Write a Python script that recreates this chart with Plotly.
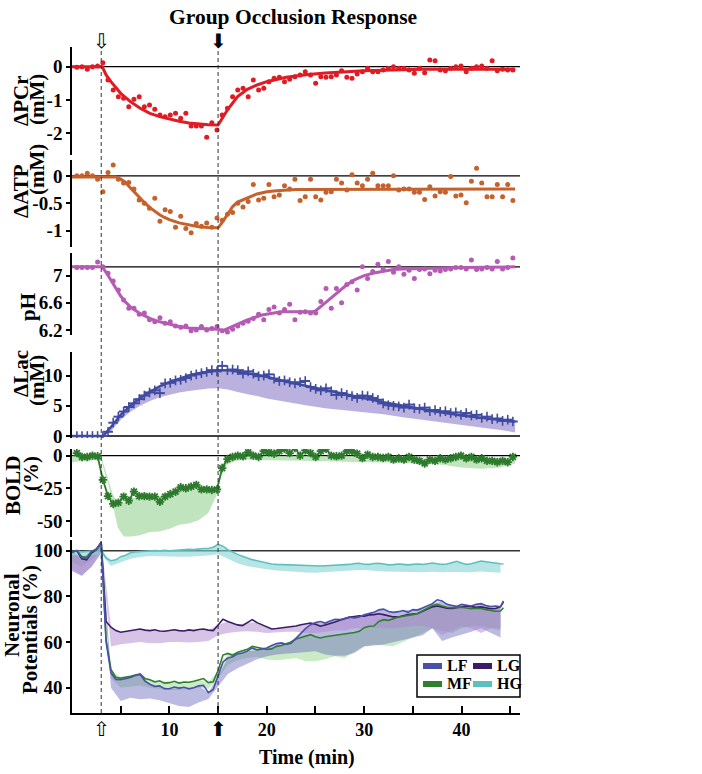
import plotly.graph_objects as go
from plotly.subplots import make_subplots

# ---------------- data ----------------
# MRS sampling times (min)
t_mrs = [0.50, 1.03, 1.57, 2.10, 2.63, 3.17, 3.70, 4.23, 4.76, 5.30,
         5.83, 6.36, 6.90, 7.43, 7.96, 8.50, 9.03, 9.56, 10.09, 10.63,
         11.16, 11.69, 12.23, 12.76, 13.29, 13.83, 14.36, 14.89, 15.42, 15.96,
         16.49, 17.02, 17.56, 18.09, 18.62, 19.16, 19.69, 20.22, 20.75, 21.29,
         21.82, 22.35, 22.89, 23.42, 23.95, 24.49, 25.02, 25.55, 26.08, 26.62,
         27.15, 27.68, 28.22, 28.75, 29.28, 29.82, 30.35, 30.88, 31.41, 31.95,
         32.48, 33.01, 33.55, 34.08, 34.61, 35.15, 35.68, 36.21, 36.74, 37.28,
         37.81, 38.34, 38.88, 39.41, 39.94, 40.48, 41.01, 41.54, 42.07, 42.61,
         43.14, 43.67, 44.21, 44.74, 45.27]

pcr = [-0.02, 0.0, -0.08, 0.0, 0.02, 0.12, -0.4, -0.7, -0.9, -0.95,
       -1.2, -0.98, -0.9, -1.2, -1.15, -1.28, -1.45, -1.5, -1.45, -1.4,
       -1.55, -1.4, -1.78, -1.78, -1.78, -2.12, -1.68, -1.9, -1.45, -1.25,
       -0.9, -0.7, -0.65, -0.9, -0.4, -0.7, -0.65, -0.45, -0.35, -0.32,
       -0.45, -0.38, -0.3, -0.25, -0.15, -0.25, -0.5, -0.3, -0.32, -0.3,
       -0.25, -0.12, -0.32, -0.35, -0.22, -0.15, -0.05, -0.15, -0.15, -0.1,
       -0.05, 0.0, -0.05, -0.05, -0.1, -0.2, -0.05, -0.18, 0.2, 0.18,
       -0.1, -0.12, -0.05, 0.0, 0.02, -0.15, -0.05, 0.0, 0.02, -0.05,
       0.18, -0.12, -0.08, -0.1, -0.1]
pcr_fit_t = [0, 3.1, 3.5, 4, 5, 6, 7, 8, 9, 10, 11, 12, 13, 14, 15, 15.5, 16, 17, 18, 19,
             20, 22, 24, 26, 28, 30, 33, 36, 40, 45.5]
pcr_fit = [0, 0, -0.25, -0.45, -0.8, -1.05, -1.25, -1.4, -1.5, -1.58, -1.64, -1.69, -1.72,
           -1.74, -1.75, -1.5, -1.28, -0.9, -0.68, -0.55, -0.45, -0.32, -0.24, -0.19, -0.15,
           -0.12, -0.1, -0.08, -0.08, -0.08]

atp = [0.0, 0.0, 0.05, 0.0, -0.06, -0.29, 0.06, 0.2, -0.06, -0.13,
       -0.12, -0.24, -0.44, -0.5, -0.59, -0.41, -0.83, -0.62, -0.65, -0.94,
       -0.74, -0.96, -1.04, -0.87, -0.92, -0.86, -0.94, -0.77, -0.81, -0.7,
       -0.67, -0.5, -0.57, -0.47, -0.16, -0.44, -0.41, -0.16, -0.38, -0.35,
       -0.18, -0.24, -0.06, -0.45, -0.38, -0.06, -0.38, -0.44, -0.3, -0.29,
       -0.06, -0.13, -0.26, 0.02, -0.13, -0.18, -0.06, 0.05, -0.18, -0.18,
       -0.18, 0.0, -0.26, -0.24, -0.24, -0.3, -0.3, -0.43, -0.2, -0.37,
       -0.29, -0.3, -0.01, -0.37, -0.35, -0.49, -0.1, 0.14, -0.13, -0.38,
       -0.38, -0.16, -0.38, -0.16, -0.45]
atp_fit_t = [0, 4.5, 5, 5.5, 6, 6.5, 7, 7.5, 8, 8.5, 9, 9.5, 10, 11, 12, 13, 14, 15,
             15.5, 16, 16.5, 17, 18, 19, 20, 21, 23, 45.5]
atp_fit = [-0.02, -0.02, -0.06, -0.12, -0.22, -0.32, -0.42, -0.5, -0.58, -0.65,
           -0.71, -0.76, -0.8, -0.86, -0.9, -0.93, -0.945, -0.95, -0.83, -0.7,
           -0.56, -0.48, -0.4, -0.33, -0.29, -0.27, -0.25, -0.24]

ph = [7.12, 7.12, 7.12, 7.12, 7.2, 7.13, 7.035, 6.92, 6.79, 6.64,
      6.52, 6.52, 6.43, 6.45, 6.35, 6.32, 6.38, 6.30, 6.32, 6.26,
      6.24, 6.26, 6.19, 6.2, 6.25, 6.2, 6.22, 6.25, 6.19, 6.17,
      6.21, 6.26, 6.3, 6.33, 6.37, 6.43, 6.35, 6.5, 6.54, 6.45,
      6.5, 6.58, 6.35, 6.46, 6.47, 6.45, 6.45, 6.62, 6.81, 6.52,
      6.81, 6.6, 6.87, 6.91, 6.79, 7.13, 6.96, 7.06, 7.17, 7.1,
      7.21, 7.05, 7.13, 7.02, 7.08, 6.96, 7.09, 7.1, 7.03, 7.08,
      7.07, 7.09, 7.1, 7.12, 7.12, 7.1, 7.23, 7.09, 7.1, 7.12,
      7.1, 7.21, 7.1, 7.12, 7.26]
ph_fit_t = [0, 3.1, 3.5, 4, 4.5, 5, 5.5, 6, 7, 8, 9, 10, 11, 12, 13, 14, 15, 15.5, 16.5, 18,
            19.5, 21.5, 24.7, 25, 26, 27, 28, 29, 30, 31, 32, 33, 34, 36, 40, 45.5]
ph_fit = [7.13, 7.13, 7.05, 6.93, 6.8, 6.7, 6.61, 6.54, 6.44, 6.37,
          6.32, 6.28, 6.25, 6.23, 6.22, 6.21, 6.21, 6.19, 6.25, 6.35,
          6.42, 6.47, 6.47, 6.48, 6.6, 6.72, 6.84, 6.94, 7.0, 7.04,
          7.07, 7.09, 7.1, 7.11, 7.12, 7.13]

lac = [0, 0, 0, 0, 0, 0, 0.7, 2.2, 3.2, 4.05,
       4.8, 5.4, 6.1, 6.7, 7.2, 7.55, 7.1, 8.7, 8.8, 9.2,
       9.3, 9.6, 10.0, 10.2, 10.4, 10.6, 10.9, 10.7, 11.6, 10.9,
       11.0, 10.9, 10.3, 10.7, 10.3, 9.9, 10.0, 10.2, 9.5, 9.1,
       9.2, 8.9, 8.7, 8.9, 9.1, 8.1, 7.8, 7.55, 7.9, 7.4,
       6.8, 7.1, 6.8, 6.6, 6.3, 6.7, 6.6, 6.3, 6.0, 5.4,
       5.1, 5.0, 4.9, 4.7, 5.2, 4.6, 4.5, 4.7, 4.1, 4.3,
       4.0, 4.1, 3.8, 3.9, 3.5, 3.8, 3.4, 3.5, 3.0, 3.2,
       2.8, 2.9, 2.5, 2.7, 2.4]
lac_fit_t = [0, 3.2, 4, 5, 6, 7, 8, 9, 10, 11, 12, 13, 14, 15, 16, 17, 18, 19, 20, 22,
             24, 26, 28, 30, 32, 34, 36, 38, 40, 42, 44, 45.5]
lac_fit = [0, 0, 1.5, 3.5, 5.0, 6.3, 7.3, 8.2, 8.9, 9.5, 10.0, 10.4, 10.7, 10.9, 10.9, 10.7,
           10.4, 10.1, 9.8, 9.0, 8.3, 7.6, 6.9, 6.3, 5.6, 5.0, 4.4, 3.9, 3.4, 3.0, 2.6, 2.4]
lac_low = [0, 0, 0.8, 2.7, 4.0, 5.0, 5.8, 6.4, 6.8, 7.2, 7.45, 7.7, 7.85, 7.9, 7.7, 7.3,
           6.9, 6.6, 6.2, 5.6, 5.1, 4.6, 4.2, 3.9, 3.6, 3.1, 2.6, 2.2, 1.8, 1.4, 1.0, 0.6]

bold = [2, -1, -1, 0, -0.5, -18.5, -31, -37, -36, -31.4,
        -34.5, -27.6, -31, -31, -31.4, -31.4, -35.3, -31.4, -29.4, -27.6,
        -24.2, -25, -23.7, -22.4, -25.8, -25.8, -26.3, -25.8, -9.5, -2.6,
        -1, 0, -0.5, 2.6, 0, -1, 3.4, 2.6, 1.5, 3.4,
        5.2, 2, 5.9, 0, 4.1, 2, -1, 3.4, 5.2, 0,
        -0.5, 0, 3.4, 3.4, 1.5, -1.8, 0.8, -1, -1, -1.8,
        -1, -3, -2, -3, -1, -3, -4, -6, -3, -4,
        -2, -3, -2, -1, 0, -2, -1, -3, -2, -4,
        -4, -5, -4, -5, -1]
bold_band_t = [0, 3.0, 3.3, 3.7, 4.2, 4.7, 5.3, 6, 7, 8, 9, 10, 11, 12, 13, 14, 14.8, 15.3,
               15.9, 16.6, 17.6, 20, 25, 28, 30, 32, 35, 38, 40, 42, 44, 45.5]
bold_band_hi = [0, 0, -8, -18, -30, -36, -36, -33, -31, -31, -31, -29, -26, -24, -24, -25,
                -25, -9, -2, -1, 0, 0, 0, -0.5, -1, -1, -2, -2, -2, -2, -2, -2]
bold_band_lo = [-5, -3, -12, -21, -39, -55, -62, -62, -61, -58.5, -58, -56, -53, -52, -49.5,
                -44, -31, -16, -7, -4.4, -3, -3.5, -4, -4.5, -5, -5, -6, -7, -9, -10, -9, -6]

# neuronal power (% of baseline)
t_np = [0, 0.5, 1, 1.5, 2, 2.5, 3, 3.5, 4, 4.5,
        5, 5.5, 6, 6.5, 7, 7.5, 8, 8.5, 9, 9.5,
        10, 10.5, 11, 11.5, 12, 12.5, 13, 13.5, 14, 14.5,
        15, 15.5, 16, 16.5, 17, 17.5, 18, 18.5, 19, 19.5,
        20, 20.5, 21, 21.5, 22, 22.5, 23, 23.5, 24, 24.5,
        25, 25.5, 26, 26.5, 27, 27.5, 28, 28.5, 29, 29.5,
        30, 30.5, 31, 31.5, 32, 32.5, 33, 33.5, 34, 34.5,
        35, 35.5, 36, 36.5, 37, 37.5, 38, 38.5, 39, 39.5,
        40, 40.5, 41, 41.5, 42, 42.5, 43, 43.5, 44, 44.3]
lf = [99.5, 100, 97, 96.5, 99.5, 100.5, 103.5, 60, 46.5, 43.6,
      43.5, 43.9, 44.5, 45.3, 45.8, 42.9, 41.5, 40.5, 40.8, 39.5,
      39.5, 40.3, 39.8, 40.2, 39.5, 40.0, 40.8, 41.0, 37.8, 39.2,
      45.0, 51.3, 53.0, 53.5, 54.8, 55.2, 56.0, 57.4, 56.5, 56.9,
      57.4, 58.5, 59.3, 59.6, 59.0, 59.5, 61.8, 64.0, 66.0, 67.6,
      68.5, 69.0, 68.3, 69.2, 70.0, 69.8, 70.3, 70.9, 70.6, 71.0,
      71.9, 72.5, 73.0, 74.1, 74.4, 73.4, 73.0, 73.3, 73.8, 73.0,
      74.2, 74.0, 75.0, 76.0, 76.8, 78.5, 78.0, 76.5, 76.0, 75.5,
      76.5, 76.0, 75.8, 76.5, 76.8, 76.0, 75.5, 75.8, 75.4, 78.0]
mf = [99.5, 100, 97.5, 97, 99.8, 100.5, 103.2, 61, 48, 44.5,
      44.2, 44.5, 45.0, 45.5, 46.0, 44.0, 43.5, 42.5, 43.0, 42.0,
      42.2, 42.8, 42.0, 42.5, 42.4, 42.8, 43.5, 44.0, 42.2, 42.6,
      47.5, 54.3, 55.0, 54.2, 55.5, 56.0, 56.8, 58.1, 57.6, 57.2,
      56.8, 57.0, 58.1, 58.5, 59.4, 60.0, 61.3, 62.0, 62.6, 63.2,
      62.3, 61.8, 62.3, 62.6, 62.8, 63.2, 63.6, 64.0, 64.2, 64.7,
      66.3, 66.9, 67.0, 69.0, 69.8, 69.5, 70.2, 71.0, 71.3, 71.5,
      72.0, 72.5, 73.5, 74.8, 76.0, 76.5, 75.8, 75.2, 75.0, 75.3,
      75.2, 75.0, 74.6, 74.8, 74.7, 74.2, 73.8, 73.5, 73.6, 75.0]
lg = [99.5, 100, 96.5, 96.0, 99.0, 100.5, 103.8, 69.0, 66.5, 65.0,
      64.3, 64.7, 65.0, 65.5, 65.7, 65.2, 65.0, 65.4, 64.8, 64.7,
      65.2, 65.4, 65.0, 64.8, 65.3, 65.0, 65.5, 65.7, 65.2, 65.0,
      67.5, 70.0, 69.0, 68.3, 67.5, 67.2, 68.5, 69.8, 68.5, 67.6,
      66.5, 65.7, 65.9, 66.1, 66.4, 66.6, 67.0, 67.6, 68.0, 68.3,
      67.8, 66.9, 67.5, 68.0, 68.8, 69.5, 70.2, 70.9, 71.2, 71.5,
      71.3, 71.9, 72.0, 72.4, 72.0, 71.5, 71.0, 71.0, 71.6, 72.0,
      72.3, 72.5, 73.5, 74.5, 75.4, 75.8, 75.2, 74.8, 74.7, 75.0,
      75.5, 75.8, 75.5, 75.2, 75.4, 75.0, 74.6, 74.7, 75.5, 77.5]
hg = [99.5, 99.8, 99.5, 99.6, 99.8, 100.0, 100.2, 96.7, 95.6, 96.0,
      97.4, 98.0, 99.1, 99.5, 99.7, 99.8, 100.0, 100.1, 100.0, 100.2,
      100.0, 100.2, 100.3, 100.4, 100.6, 100.5, 100.8, 101.0, 101.0, 101.5,
      102.8, 102.0, 100.4, 99.3, 98.4, 97.6, 96.7, 96.1, 95.6, 95.1,
      94.6, 94.2, 94.0, 93.9, 93.8, 93.6, 93.5, 93.4, 93.3, 93.3,
      93.3, 93.3, 93.4, 93.5, 93.6, 93.8, 93.8, 94.0, 94.4, 94.5,
      94.1, 94.0, 94.4, 94.5, 94.2, 93.8, 93.9, 94.2, 94.0, 93.8,
      94.0, 94.2, 94.0, 94.3, 94.6, 94.3, 94.0, 94.2, 94.8, 95.3,
      94.6, 94.0, 94.3, 94.8, 95.5, 95.2, 94.8, 94.5, 94.3, 94.2]

# lower edges of the shaded bands, one per minute (upper edge = mean trace)
t_band = [0, 1, 2, 3, 4, 5, 6, 7, 8, 9, 10, 11, 12, 13, 14, 15, 16, 17, 18, 19, 20, 21, 22,
          23, 24, 25, 26, 27, 28, 29, 30, 31, 32, 33, 34, 35, 36, 37, 38, 39, 40, 41, 42, 43, 44]
lf_low = [91, 89, 93, 99, 40, 34.2, 35.6, 34.9, 35.2, 34.5,
          33.4, 32.0, 31.5, 33.5, 35.0, 40.7, 46, 48.5, 50.5, 52.5,
          53.8, 54.5, 55.0, 55.2, 55.6, 56.0, 54.5, 54.0, 54.0, 55.2,
          58.0, 58.5, 58.9, 60, 61, 61.9, 63, 66, 60.5, 62,
          63.3, 64.5, 66, 64, 62]
mf_low = [95, 93, 96, 100, 44, 40, 40.5, 41, 40, 39.5,
          39, 39, 39.5, 40, 39.5, 44, 50, 52, 53, 53.5,
          52.3, 52, 52.5, 53, 51.6, 51.6, 52.5, 53.8, 53.0, 56,
          58.1, 58.9, 58.5, 58.1, 60, 62, 64, 66, 65, 64,
          66, 67, 67, 66, 65]
lg_low = [92, 89, 93, 99, 58, 59, 59.5, 60, 59.5, 59.5,
          60, 60, 59.8, 60, 60.5, 63, 64, 64.5, 64.7, 64.5,
          64.0, 64.2, 64.5, 64.5, 64, 64, 64.5, 65, 65, 66,
          66, 66.5, 66, 66, 66.5, 67, 67, 66, 63, 65,
          67, 66, 64, 66, 66]
hg_low = [98, 97.5, 98, 98.5, 93.3, 95, 96.5, 97.2, 97.7, 97.6,
          97.5, 97.4, 97.4, 97.6, 97.9, 98.5, 96.5, 94.5, 93.2, 92.4,
          91.9, 91.3, 90.9, 90.7, 90.5, 90.4, 90.5, 90.8, 91.2, 91.4,
          91.6, 91.2, 90.9, 90.8, 90.7, 90.6, 90.6, 90.8, 90.6, 90.7,
          90.8, 90.6, 90.9, 90.6, 90.4]

event_times = [3, 15]
baselines = [0, 0, 7.13, 0, 0, 100]

# ---------------- styling ----------------
W, H = 702, 774
SERIF = "Liberation Serif"
RED, ORANGE, MAGENTA = "#e01b24", "#c4622d", "#b55bb3"
LAC, BOLDC = "#3f4aa0", "#2d7a2d"
NP_COL = {"LF": "#4a50a8", "LG": "#3b1d63", "MF": "#2e8030", "HG": "#5cc0c0"}
NP_FILL = {"LF": "rgba(105,105,190,0.45)", "LG": "rgba(175,135,205,0.5)",
           "MF": "rgba(150,215,140,0.5)", "HG": "rgba(135,212,212,0.6)"}


def px(x):
    return x / W


def py(y):
    return 1 - y / H


fig = make_subplots(rows=6, cols=1, shared_xaxes=True)

# PCr
fig.add_trace(go.Scatter(x=t_mrs, y=pcr, mode="markers",
                         marker=dict(color=RED, size=5)), row=1, col=1)
fig.add_trace(go.Scatter(x=pcr_fit_t, y=pcr_fit, mode="lines",
                         line=dict(color=RED, width=3)), row=1, col=1)
# ATP
fig.add_trace(go.Scatter(x=t_mrs, y=atp, mode="markers",
                         marker=dict(color=ORANGE, size=5)), row=2, col=1)
fig.add_trace(go.Scatter(x=atp_fit_t, y=atp_fit, mode="lines",
                         line=dict(color=ORANGE, width=3)), row=2, col=1)
# pH
fig.add_trace(go.Scatter(x=t_mrs, y=ph, mode="markers",
                         marker=dict(color=MAGENTA, size=5)), row=3, col=1)
fig.add_trace(go.Scatter(x=ph_fit_t, y=ph_fit, mode="lines",
                         line=dict(color=MAGENTA, width=3)), row=3, col=1)
# Lactate
fig.add_trace(go.Scatter(x=lac_fit_t + lac_fit_t[::-1], y=lac_fit + lac_low[::-1],
                         mode="lines", fill="toself", fillcolor="rgba(140,125,200,0.6)",
                         line=dict(width=0)), row=4, col=1)
fig.add_trace(go.Scatter(x=lac_fit_t, y=lac_fit, mode="lines",
                         line=dict(color=LAC, width=2.5)), row=4, col=1)
fig.add_trace(go.Scatter(x=t_mrs, y=lac, mode="markers",
                         marker=dict(symbol="line-ew-open", size=7, color=LAC,
                                     line=dict(color=LAC, width=2)),
                         error_y=dict(type="constant", value=0.8, thickness=1.6,
                                      width=0, color=LAC)), row=4, col=1)
# BOLD
fig.add_trace(go.Scatter(x=bold_band_t + bold_band_t[::-1],
                         y=bold_band_hi + bold_band_lo[::-1],
                         mode="lines", fill="toself", fillcolor="rgba(150,210,145,0.6)",
                         line=dict(width=0)), row=5, col=1)
fig.add_trace(go.Scatter(x=t_mrs, y=bold, mode="lines+markers",
                         line=dict(color=BOLDC, width=1.8),
                         marker=dict(symbol="asterisk-open", size=7,
                                     line=dict(color=BOLDC, width=1.8))), row=5, col=1)

# Neuronal potentials: bands then lines
np_series = {"MF": (mf, mf_low), "LF": (lf, lf_low), "LG": (lg, lg_low), "HG": (hg, hg_low)}
for name, (line_vals, low_vals) in np_series.items():
    upper = line_vals[:89:2]
    fig.add_trace(go.Scatter(x=t_band + t_band[::-1], y=upper + low_vals[::-1],
                             mode="lines", fill="toself", fillcolor=NP_FILL[name],
                             line=dict(width=0)), row=6, col=1)
for name in ["HG", "LG", "MF", "LF"]:
    fig.add_trace(go.Scatter(x=t_np, y=np_series[name][0], mode="lines",
                             line=dict(color=NP_COL[name], width=1.6)), row=6, col=1)

# ---------------- axes ----------------
domains = [(47, 155), (160, 247), (253, 335), (352, 438), (449, 537), (540, 713)]
ranges = [[-2.65, 0.59], [-1.30, 0.29], [6.126, 7.334], [-0.33, 13.9],
          [-62.3, 5.1], [28.9, 104.7]]
tickvals = [[0, -1, -2], [0, -0.5, -1], [7, 6.6, 6.2], [0, 5, 10], [0, -25, -50],
            [40, 60, 80, 100]]
ticktext = [["0", "-1", "-2"], ["0", "-0.5", "-1"], ["7", "6.6", "6.2"],
            ["0", "5", "10"], ["0", "-25", "-50"], ["40", "60", "80", "100"]]
tick_font = dict(family=SERIF, size=19, color="black", weight="bold")

for i in range(6):
    top, bot = domains[i]
    fig.update_yaxes(domain=[py(bot), py(top)], range=ranges[i], tickvals=tickvals[i],
                     ticktext=ticktext[i], showline=True, linecolor="black", linewidth=1.5,
                     ticks="outside", ticklen=4, tickwidth=1.5, tickcolor="black",
                     showgrid=False, zeroline=False, tickfont=tick_font,
                     automargin=False, row=i + 1, col=1)
    fig.update_xaxes(domain=[px(72), px(520)], range=[0, 46], showgrid=False,
                     zeroline=False, automargin=False, row=i + 1, col=1)

fig.update_xaxes(showline=True, linecolor="black", linewidth=1.5, ticks="inside",
                 ticklen=7, tickwidth=1.5, tickcolor="black",
                 tickvals=[5, 10, 15, 20, 25, 30, 35, 40, 45],
                 ticktext=["", "10", "", "20", "", "30", "", "40", ""],
                 tickfont=dict(family=SERIF, size=18, color="black", weight="bold"),
                 row=6, col=1)

# baselines and event markers
shapes = []
for i, b in enumerate(baselines):
    sfx = "" if i == 0 else str(i + 1)
    shapes.append(dict(type="line", xref="x%s domain" % sfx, yref="y" + sfx,
                       x0=0, x1=1, y0=b, y1=b,
                       line=dict(color="#333333" if i == 5 else "black", width=1.3),
                       layer="below"))
for t in event_times:
    shapes.append(dict(type="line", xref="x6", yref="paper", x0=t, x1=t,
                       y0=py(713), y1=py(47),
                       line=dict(color="#333333", width=1, dash="4px,3px")))

# manual legend
shapes.append(dict(type="rect", xref="paper", yref="paper", x0=px(417), x1=px(520),
                   y0=py(697), y1=py(655), line=dict(color="black", width=1.5),
                   fillcolor="white"))
legend_items = [("LF", 423, 665), ("LG", 473, 665), ("MF", 423, 683), ("HG", 473, 683)]
annotations = []
for name, lx, ly in legend_items:
    shapes.append(dict(type="line", xref="paper", yref="paper", x0=px(lx), x1=px(lx + 19),
                       y0=py(ly + 1), y1=py(ly + 1),
                       line=dict(color=NP_COL[name], width=6)))
    annotations.append(dict(text=name, xref="paper", yref="paper", x=px(lx + 22),
                            y=py(ly), xanchor="left", yanchor="middle", showarrow=False,
                            font=dict(family=SERIF, size=16, color="black", weight="bold")))

# rotated y titles, one annotation per line
ylabel_lines = [("ΔPCr", 21, 101), ("(mM)", 37, 100),
                ("ΔATP", 21, 191), ("(mM)", 37, 170),
                ("pH", 28, 307),
                ("ΔLac", 21, 374), ("(mM)", 37, 381),
                ("BOLD", 13, 485), ("(%)", 31, 474),
                ("Neuronal", 12, 615), ("Potentials (%)", 30, 630)]
for text, lx, ly in ylabel_lines:
    annotations.append(dict(text=text, xref="paper", yref="paper", x=px(lx), y=py(ly),
                            xanchor="center", yanchor="middle", textangle=-90,
                            showarrow=False,
                            font=dict(family=SERIF, size=21, color="black", weight="bold")))

annotations.append(dict(text="Group Occlusion Response", xref="paper", yref="paper",
                        x=px(293), y=py(17), xanchor="center", yanchor="middle",
                        showarrow=False,
                        font=dict(family=SERIF, size=21.5, color="black", weight="bold")))
annotations.append(dict(text="Time (min)", xref="paper", yref="paper",
                        x=px(307), y=py(757), xanchor="center", yanchor="middle",
                        showarrow=False,
                        font=dict(family=SERIF, size=20, color="black", weight="bold")))

# occlusion on / off arrows
for t, top_glyph, bot_glyph in [(event_times[0], "⇩", "⇧"), (event_times[1], "⬇", "⬆")]:
    annotations.append(dict(text=top_glyph, xref="x6", yref="paper", x=t, y=py(41),
                            xanchor="center", yanchor="middle", showarrow=False,
                            font=dict(family="DejaVu Sans", size=20, color="black")))
    annotations.append(dict(text=bot_glyph, xref="x6", yref="paper", x=t, y=py(729),
                            xanchor="center", yanchor="middle", showarrow=False,
                            font=dict(family="DejaVu Sans", size=20, color="black")))

fig.update_layout(width=W, height=H, margin=dict(l=0, r=0, t=0, b=0),
                  plot_bgcolor="white", paper_bgcolor="white", showlegend=False,
                  shapes=shapes, annotations=annotations)

# drop the default 8px page margin so the figure fills the window exactly
fig.write_html("out.html", config={"displayModeBar": False},
               post_script="document.body.style.margin='0';")
